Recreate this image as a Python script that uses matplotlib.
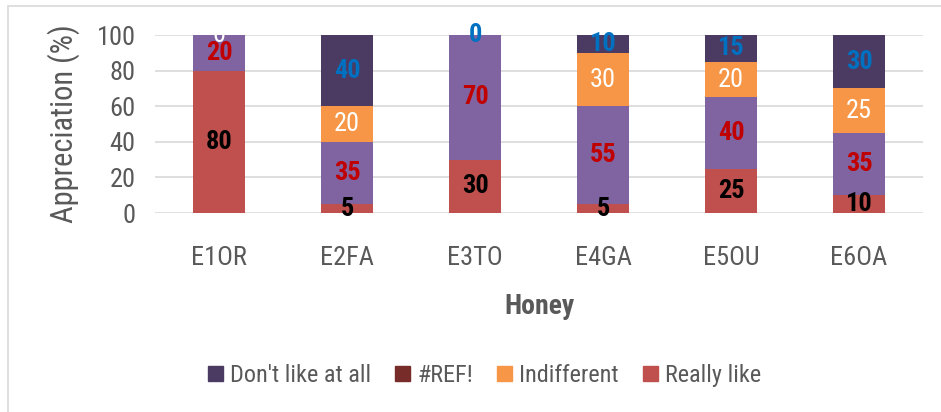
import matplotlib
matplotlib.use("Agg")
import matplotlib.pyplot as plt
import matplotlib.patches as mpatches
import numpy as np
from matplotlib import font_manager

names = {f.name for f in font_manager.fontManager.ttflist}
fams = [f for f in ["Roboto Condensed", "Liberation Sans Narrow", "Liberation Sans"] if f in names]
plt.rcParams['font.family'] = fams + ['DejaVu Sans']

honeys = ["E1OR", "E2FA", "E3TO", "E4GA", "E5OU", "E6OA"]
really_like = [80, 5, 30, 5, 25, 10]
like = [20, 35, 70, 55, 40, 35]
indifferent = [0, 20, None, 30, 20, 25]
ref_err = [0, 0, 0, 0, 0, 0]
dont_like = [None, 40, 0, 10, 15, 30]

c_really = "#C0504D"
c_like = "#8064A2"
c_indiff = "#F79646"
c_ref = "#772C2A"
c_dont = "#4B3A62"

fig = plt.figure(figsize=(9.41, 4.12), dpi=100)
ax = fig.add_axes([0.1647, 0.483, 0.8163, 0.432])

# light border of the chart area
fig.patches.append(mpatches.Rectangle((8 / 941, -0.05), 1.2, 1 - 6 / 412 + 0.05,
                                      transform=fig.transFigure, fill=False,
                                      edgecolor="#D9D9D9", linewidth=1.2))

x = np.arange(len(honeys))
w = 0.41

def vals(a):
    return np.array([0 if v is None else v for v in a], dtype=float)

series = [
    (really_like, c_really, "Really like", dict(color="black", fontweight="bold")),
    (like, c_like, None, dict(color="#C00000", fontweight="bold")),
    (ref_err, c_ref, "#REF!", None),
    (indifferent, c_indiff, "Indifferent", dict(color="white")),
    (dont_like, c_dont, "Don't like at all", dict(color="#0070C0", fontweight="bold")),
]

bottom = np.zeros(len(honeys))
handles = {}
for data, col, lab, tstyle in series:
    v = vals(data)
    bars = ax.bar(x, v, w, bottom=bottom, color=col, linewidth=0, zorder=2)
    if lab:
        handles[lab] = bars
    if tstyle is not None:
        for i, d in enumerate(data):
            if d is None:
                continue
            ax.text(x[i], bottom[i] + v[i] / 2, str(d), ha="center", va="center",
                    fontsize=19, zorder=4, **tstyle)
    bottom += v

ax.set_ylim(0, 100)
ax.set_xlim(-0.5, len(honeys) - 0.5)
ax.set_yticks(np.arange(0, 101, 20))
ax.yaxis.grid(True, color="#D9D9D9", linewidth=1.2, zorder=0)
ax.set_axisbelow(True)
for s in ax.spines.values():
    s.set_visible(False)
ax.tick_params(axis="both", length=0, labelsize=19, labelcolor="#595959")
ax.tick_params(axis="x", pad=24)
ax.tick_params(axis="y", pad=14)
ax.set_xticks(x)
ax.set_xticklabels(honeys)

ax.set_ylabel("Appreciation (%)", fontsize=22, color="#595959", labelpad=12)
ax.set_xlabel("Honey", fontsize=20, fontweight="bold", color="#595959", labelpad=16)

order = ["Don't like at all", "#REF!", "Indifferent", "Really like"]
fig.legend([mpatches.Patch(color=handles[k].patches[0].get_facecolor()) for k in order],
           order, loc="center", bbox_to_anchor=(0.515, 0.088), ncol=4, frameon=False,
           fontsize=17.5, labelcolor="#595959", handlelength=0.6, handleheight=0.6,
           handletextpad=0.3, columnspacing=1.0)

fig.savefig("out.png", dpi=100)
